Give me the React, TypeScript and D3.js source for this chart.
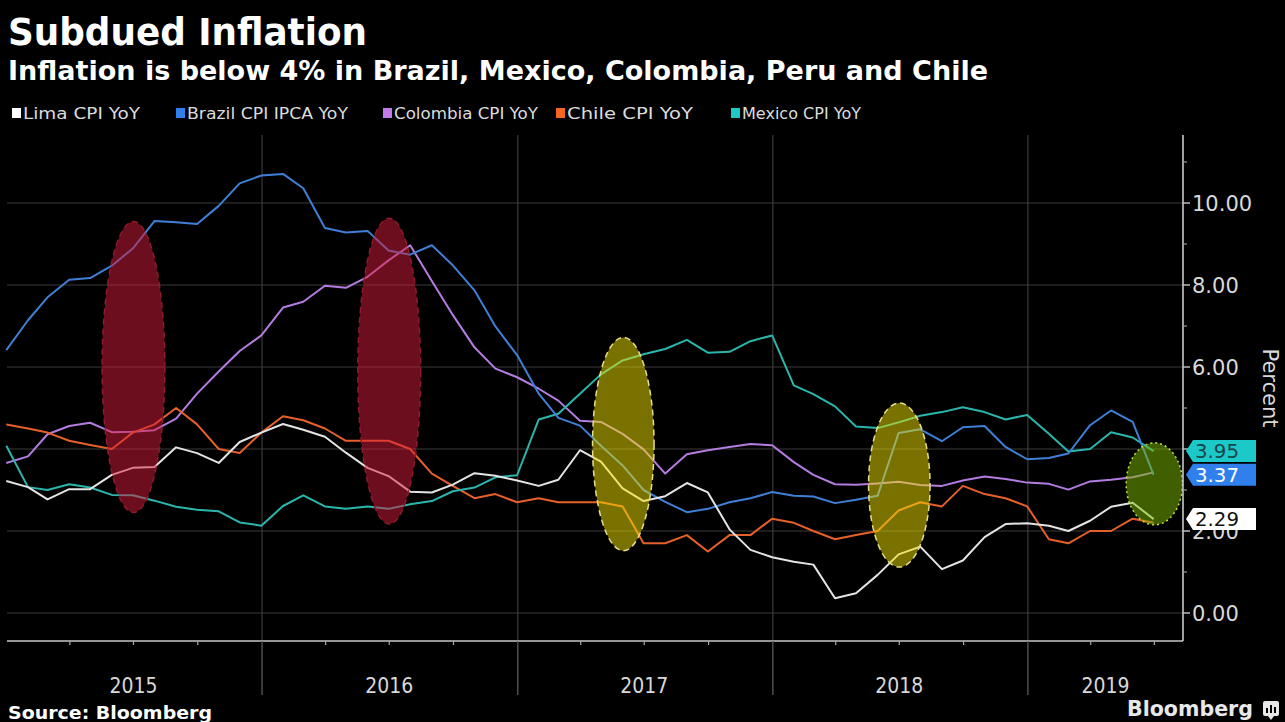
import React from "react";
import * as d3 from "d3";

// ---------- DATA (monthly YoY %, Dec 2014 .. Jun 2019) ----------
const startYear = 2014;
const startMonth = 11; // December (0-based)

const limaCPI = [3.22, 3.07, 2.77, 3.02, 3.02, 3.37, 3.54, 3.56, 4.04, 3.9, 3.66, 4.17, 4.4,
  4.61, 4.47, 4.3, 3.91, 3.54, 3.34, 2.96, 2.94, 3.13, 3.41, 3.35, 3.23,
  3.1, 3.25, 3.97, 3.69, 3.04, 2.73, 2.85, 3.17, 2.94, 2.04, 1.54, 1.36,
  1.25, 1.18, 0.36, 0.48, 0.93, 1.43, 1.62, 1.07, 1.28, 1.85, 2.17, 2.19,
  2.13, 2.0, 2.25, 2.59, 2.69, 2.29];
const brazilCPI = [6.41, 7.14, 7.7, 8.13, 8.17, 8.47, 8.89, 9.56, 9.53, 9.49, 9.93, 10.48, 10.67,
  10.71, 10.36, 9.39, 9.28, 9.32, 8.84, 8.74, 8.97, 8.48, 7.87, 6.99, 6.29,
  5.35, 4.76, 4.57, 4.08, 3.6, 3.0, 2.71, 2.46, 2.54, 2.7, 2.8, 2.95,
  2.86, 2.84, 2.68, 2.76, 2.86, 4.39, 4.48, 4.19, 4.53, 4.56, 4.05, 3.75,
  3.78, 3.89, 4.58, 4.94, 4.66, 3.37];
const colombiaCPI = [3.66, 3.82, 4.36, 4.56, 4.64, 4.41, 4.42, 4.46, 4.74, 5.35, 5.89, 6.39, 6.77,
  7.45, 7.59, 7.98, 7.93, 8.2, 8.6, 8.97, 8.1, 7.27, 6.48, 5.96, 5.75,
  5.47, 5.18, 4.69, 4.66, 4.37, 3.99, 3.4, 3.87, 3.97, 4.05, 4.12, 4.09,
  3.68, 3.37, 3.14, 3.13, 3.16, 3.2, 3.12, 3.1, 3.23, 3.33, 3.27, 3.18,
  3.15, 3.01, 3.21, 3.25, 3.31, 3.43];
const chileCPI = [4.6, 4.5, 4.4, 4.2, 4.1, 4.0, 4.4, 4.6, 5.0, 4.6, 4.0, 3.9, 4.4,
  4.8, 4.7, 4.5, 4.2, 4.2, 4.2, 4.0, 3.4, 3.1, 2.8, 2.9, 2.7,
  2.8, 2.7, 2.7, 2.7, 2.6, 1.7, 1.7, 1.9, 1.5, 1.9, 1.9, 2.3,
  2.2, 2.0, 1.8, 1.9, 2.0, 2.5, 2.7, 2.6, 3.1, 2.9, 2.8, 2.6,
  1.8, 1.7, 2.0, 2.0, 2.3, 2.2];
const mexicoCPI = [4.08, 3.07, 3.0, 3.14, 3.06, 2.88, 2.87, 2.74, 2.59, 2.52, 2.48, 2.21, 2.13,
  2.61, 2.87, 2.6, 2.54, 2.6, 2.54, 2.65, 2.73, 2.97, 3.06, 3.31, 3.36,
  4.72, 4.86, 5.35, 5.82, 6.16, 6.31, 6.44, 6.66, 6.35, 6.37, 6.63, 6.77,
  5.55, 5.34, 5.04, 4.55, 4.51, 4.65, 4.81, 4.9, 5.02, 4.9, 4.72, 4.83,
  4.37, 3.94, 4.0, 4.41, 4.28, 3.95];

const seriesNames = ["Lima CPI YoY", "Brazil CPI IPCA YoY", "Colombia CPI YoY", "Chile CPI YoY", "Mexico CPI YoY"];
const seriesValues = [limaCPI, brazilCPI, colombiaCPI, chileCPI, mexicoCPI];
const lineColors = ["#e4e4e4", "#3f7fd6", "#b47ce0", "#e6602a", "#2bb6ad"];
const legendColors = ["#ffffff", "#2f80ed", "#c07aec", "#f26522", "#1cc8c8"];
const drawOrder = [2, 3, 4, 1, 0];

const yTicks = [0, 2, 4, 6, 8, 10];
const yMinorTicks = [1, 3, 5, 7, 9, 11];
const yearLabels = ["2015", "2016", "2017", "2018", "2019"];

// last-value tags: series index
const tagSeries = [4, 1, 0];
const tagFill = ["#1cc8c8", "#2f80ed", "#ffffff"];
const tagText = ["#16464a", "#ffffff", "#111111"];

// highlight ellipses: center month (yyyy, m), center value, half width (months), half height (value)
const ellipseCenters = [[2015, 6], [2016, 6], [2017, 5], [2018, 6], [2019, 6]];
const ellipseValues = [6.0, 5.9, 4.12, 3.12, 3.15];
const ellipseHalfMonths = [1.45, 1.45, 1.42, 1.42, 1.3];
const ellipseHalfValues = [3.55, 3.73, 2.6, 2.0, 1.0];
const ellipseFill = ["#d81c3a", "#d81c3a", "#f2e200", "#f2e200", "#7dbd00"];
const ellipseStroke = ["#8e1a2c", "#8e1a2c", "#e6df8a", "#e6df8a", "#c4e040"];
const ellipseDash = ["6 4", "6 4", "6 4", "6 4", "2 3"];

const W = 1285;
const H = 722;

export default function App() {
  const x = d3.scaleTime()
    .domain([new Date(2015, 0, 1), new Date(2019, 7, 11)])
    .range([7, 1183]);
  const y = d3.scaleLinear().domain([0, 10]).range([613, 203]);
  const plotTop = 135;
  const plotBottom = 641;
  const plotLeft = 7;
  const plotRight = 1183;

  const dateAt = (i: number) => new Date(startYear, startMonth + i + 1, 0); // month end
  const line = d3.line<number>()
    .x((_, i) => x(dateAt(i)))
    .y((v) => y(v));

  const yearStarts = d3.timeYear.range(new Date(2016, 0, 1), new Date(2019, 1, 1));
  const quarterTicks = d3.timeMonth.every(3)!.range(new Date(2015, 0, 1), new Date(2019, 7, 2))
    .filter((d) => d.getMonth() !== 0);
  const monthW = x(new Date(2016, 1, 1)) - x(new Date(2016, 0, 1));

  const legendX = [12, 176, 383, 556, 731];
  const legendW = [128, 172, 155, 137, 130];

  return (
    <div style={{ position: "fixed", left: 0, top: 0 }}>
      <svg width={W} height={H} style={{ display: "block", background: "#000" }}
        fontFamily="'DejaVu Sans', Verdana, sans-serif">
        <rect x={0} y={0} width={W} height={H} fill="#000" />

        {/* titles */}
        <text x={8} y={45} fill="#fff" fontSize={37} fontWeight="bold" textLength={359} lengthAdjust="spacingAndGlyphs">Subdued Inflation</text>
        <text x={8} y={80} fill="#fff" fontSize={26} fontWeight="bold" textLength={980} lengthAdjust="spacingAndGlyphs">Inflation is below 4% in Brazil, Mexico, Colombia, Peru and Chile</text>

        {/* legend */}
        {seriesNames.map((n, i) => (
          <g key={n}>
            <rect x={legendX[i]} y={108} width={9} height={10} fill={legendColors[i]} />
            <text x={legendX[i] + 11} y={118.5} fill="#dcdcdc" fontSize={15} textLength={legendW[i] - 11} lengthAdjust="spacingAndGlyphs">{n}</text>
          </g>
        ))}

        {/* grid */}
        {yTicks.map((t) => (
          <line key={"g" + t} x1={plotLeft} x2={plotRight} y1={y(t)} y2={y(t)} stroke="#3a3a3a" strokeWidth={1.2} />
        ))}
        {yearStarts.map((d) => (
          <line key={"v" + d.getFullYear()} x1={x(d)} x2={x(d)} y1={plotTop} y2={plotBottom} stroke="#3a3a3a" strokeWidth={1.2} />
        ))}

        {/* series */}
        {drawOrder.map((si) => (
          <path key={"s" + si} d={line(seriesValues[si]) || ""} fill="none" stroke={lineColors[si]} strokeWidth={2} strokeLinejoin="round" />
        ))}

        {/* highlight ellipses */}
        {ellipseCenters.map((c, i) => {
          const cx = x(new Date(c[0], c[1], 1));
          const cy = y(ellipseValues[i]);
          const rx = ellipseHalfMonths[i] * monthW;
          const ry = y(0) - y(ellipseHalfValues[i]);
          return (
            <g key={"e" + i}>
              <ellipse cx={cx} cy={cy} rx={rx} ry={ry} fill={ellipseFill[i]} fillOpacity={0.5} />
              <ellipse cx={cx} cy={cy} rx={rx} ry={ry} fill="none" stroke={ellipseStroke[i]} strokeWidth={1.5} strokeDasharray={ellipseDash[i]} />
            </g>
          );
        })}

        {/* bottom axis */}
        <line x1={plotLeft} x2={plotRight} y1={plotBottom} y2={plotBottom} stroke="#c8c8c8" strokeWidth={1.6} />
        {quarterTicks.map((d, i) => (
          <line key={"q" + i} x1={x(d)} x2={x(d)} y1={plotBottom} y2={plotBottom + 4} stroke="#aaa" strokeWidth={1.2} />
        ))}
        {yearStarts.map((d) => (
          <line key={"ys" + d.getFullYear()} x1={x(d)} x2={x(d)} y1={plotBottom} y2={695} stroke="#5a5a5a" strokeWidth={1.3} />
        ))}
        {yearLabels.map((lab, i) => {
          const a = x(new Date(2015 + i, 0, 1));
          const b = Math.min(x(new Date(2016 + i, 0, 1)), plotRight);
          const cx = i === 4 ? (a + b) / 2 : x(new Date(2015 + i, 6, 1));
          return (
            <text key={lab} x={cx} y={693} fill="#d8d8d8" fontSize={21} textAnchor="middle" textLength={48} lengthAdjust="spacingAndGlyphs">{lab}</text>
          );
        })}

        {/* right axis */}
        <line x1={plotRight} x2={plotRight} y1={plotTop} y2={plotBottom} stroke="#c8c8c8" strokeWidth={1.6} />
        {yMinorTicks.map((t) => (
          <line key={"mt" + t} x1={plotRight} x2={plotRight + 4} y1={y(t)} y2={y(t)} stroke="#9a9a9a" strokeWidth={1.2} />
        ))}
        {yTicks.map((t) => (
          <g key={"yt" + t}>
            <line x1={plotRight} x2={plotRight + 7} y1={y(t)} y2={y(t)} stroke="#c8c8c8" strokeWidth={1.4} />
            <text x={plotRight + 9} y={y(t) + 7.5} fill="#d8d8d8" fontSize={21}>{t.toFixed(2)}</text>
          </g>
        ))}
        <text transform={`translate(1263, 388) rotate(90)`} fill="#d8d8d8" fontSize={21} textAnchor="middle">Percent</text>

        {/* last value tags */}
        {tagSeries.map((si, k) => {
          const vals = seriesValues[si];
          const v = vals[vals.length - 1];
          const cy = y(v);
          const tip = plotRight + 3;
          const l = plotRight + 10;
          const r = 1256;
          const h = 11;
          return (
            <g key={"tag" + si}>
              <path d={`M${tip},${cy} L${l},${cy - h} L${r},${cy - h} L${r},${cy + h} L${l},${cy + h} Z`} fill={tagFill[k]} />
              <text x={l + 2} y={cy + 7} fill={tagText[k]} fontSize={19} textLength={44} lengthAdjust="spacingAndGlyphs">{v.toFixed(2)}</text>
            </g>
          );
        })}

        {/* footer */}
        <text x={8} y={719} fill="#fff" fontSize={17} fontWeight="bold" textLength={204} lengthAdjust="spacingAndGlyphs">Source: Bloomberg</text>
        <text x={1127} y={716} fill="#e8e8e8" fontSize={22} fontWeight="bold" textLength={126} lengthAdjust="spacingAndGlyphs">Bloomberg</text>
        <g>
          <rect x={1263} y={701} width={16} height={15} rx={2} fill="#e8e8e8" />
          <path d="M1268,716 L1271,720 L1274,716 Z" fill="#e8e8e8" />
          <rect x={1266} y={708} width={2} height={5} fill="#000" />
          <rect x={1270} y={705} width={2} height={8} fill="#000" />
          <rect x={1274} y={707} width={2} height={6} fill="#000" />
        </g>
      </svg>
    </div>
  );
}
